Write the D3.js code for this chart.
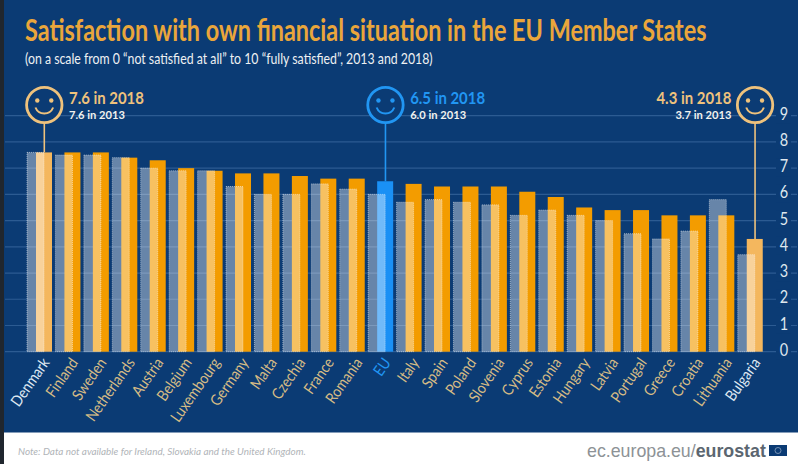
<!DOCTYPE html>
<html>
<head>
<meta charset="utf-8">
<script src="https://cdnjs.cloudflare.com/ajax/libs/d3/7.8.5/d3.min.js"></script>
<style>
  html, body { margin: 0; padding: 0; background: #fff; }
  text { font-family: Lato, "Open Sans", sans-serif; }
</style>
</head>
<body>
<div id="chart"></div>
<script>
var countries = ['Denmark','Finland','Sweden','Netherlands','Austria','Belgium','Luxembourg','Germany','Malta','Czechia','France','Romania','EU','Italy','Spain','Poland','Slovenia','Cyprus','Estonia','Hungary','Latvia','Portugal','Greece','Croatia','Lithuania','Bulgaria'];
var values2018 = [7.6,7.6,7.6,7.4,7.3,7.0,6.9,6.8,6.8,6.7,6.6,6.6,6.5,6.4,6.3,6.3,6.3,6.1,5.9,5.5,5.4,5.4,5.2,5.2,5.2,4.3];
var values2013 = [7.6,7.5,7.5,7.4,7.0,6.9,6.9,6.3,6.0,6.0,6.4,6.2,6.0,5.7,5.8,5.7,5.6,5.2,5.4,5.2,5.0,4.5,4.3,4.6,5.8,3.7];
var yTicks = [0,1,2,3,4,5,6,7,8,9];
var callouts = [
  {name:'Denmark', big:'7.6 in 2018', small:'7.6 in 2013', color:'#efc27c', side:'right'},
  {name:'EU', big:'6.5 in 2018', small:'6.0 in 2013', color:'#2196f3', side:'right'},
  {name:'Bulgaria', big:'4.3 in 2018', small:'3.7 in 2013', color:'#efc27c', side:'left'}
];

var width = 800, height = 464;
var bg = '#0b3b74';

var svg = d3.select('#chart').append('svg')
  .attr('width', width).attr('height', height)
  .style('display', 'block');

// squeeze a text to the wanted width, the original uses a condensed font
function fitText(sel, px, py, wanted) {
  var natural = sel.node().getComputedTextLength();
  sel.attr('transform', 'translate(' + px + ',' + py + ') scale(' + (wanted / natural) + ',1)');
}

svg.append('rect').attr('width', width).attr('height', height).attr('fill', '#fff');
svg.append('rect').attr('x', 4).attr('width', width - 6).attr('height', 432.5).attr('fill', bg);
svg.append('rect').attr('width', 4).attr('height', height).attr('fill', '#20262e');

var y = d3.scaleLinear().domain([0, 9]).range([351.7, 115.7]);
// step of the country groups, the 2018 bar sits at the right of each group
var x = d3.scaleBand().domain(countries).range([25, 25 + 28.43 * 26]).paddingInner(0).paddingOuter(0);

// gridlines
svg.append('g').selectAll('line').data(yTicks).enter().append('line')
  .attr('x1', 5).attr('x2', 797)
  .attr('y1', function(d) { return y(d); })
  .attr('y2', function(d) { return y(d); })
  .attr('stroke', '#2c5b92').attr('stroke-width', 1.2);

// y labels, covering the line behind them
var yAxis = svg.append('g');
yAxis.selectAll('rect').data(yTicks).enter().append('rect')
  .attr('x', 776).attr('width', 15)
  .attr('y', function(d) { return y(d) - 10; }).attr('height', 18)
  .attr('fill', bg);
yAxis.selectAll('text').data(yTicks).enter().append('text')
  .attr('transform', function(d) { return 'translate(784,' + (y(d) - 2) + ') scale(0.85,1)'; })
  .attr('dy', '0.36em').attr('text-anchor', 'middle')
  .attr('font-size', 17).attr('fill', '#dfe7ee')
  .text(function(d) { return d; });

function barColor(name) {
  if (name === 'EU') return '#1a90f5';
  if (name === 'Denmark' || name === 'Bulgaria') return '#f4b75e';
  return '#f39c00';
}

// stems of the callouts go behind the bars
var stems = svg.append('g');

var groups = svg.append('g').selectAll('g').data(countries).enter().append('g');
groups.append('rect')
  .attr('x', function(d) { return x(d) + 11; })
  .attr('width', 16)
  .attr('y', function(d, i) { return y(values2018[i]); })
  .attr('height', function(d, i) { return y(0) - y(values2018[i]); })
  .attr('fill', barColor);
groups.append('rect')
  .attr('x', function(d) { return x(d) + 2; })
  .attr('width', 17)
  .attr('y', function(d, i) { return y(values2013[i]); })
  .attr('height', function(d, i) { return y(0) - y(values2013[i]); })
  .attr('fill', '#fff').attr('fill-opacity', 0.38)
  .attr('stroke', '#fff').attr('stroke-opacity', 0.6)
  .attr('stroke-width', 0.8).attr('stroke-dasharray', '1 1');

// rotated country labels
svg.append('g').selectAll('text').data(countries).enter().append('text')
  .attr('transform', function(d) {
    return 'translate(' + (x(d) + 21.5) + ',360) rotate(-55) scale(0.88,1)';
  })
  .attr('text-anchor', 'end')
  .attr('dy', '0.3em')
  .attr('font-size', 15.5)
  .attr('fill', function(d) {
    if (d === 'EU') return '#2196f3';
    if (d === 'Denmark' || d === 'Bulgaria') return '#dfe8f2';
    return '#d6bb85';
  })
  .text(function(d) { return d; });

// callouts with smiley
var faceR = 17.7, faceY = 105;
callouts.forEach(function(c) {
  var i = countries.indexOf(c.name);
  var cx = x(c.name) + 19.3;
  stems.append('line')
    .attr('x1', cx).attr('x2', cx)
    .attr('y1', faceY + faceR).attr('y2', y(values2018[i]))
    .attr('stroke', c.color).attr('stroke-width', 1.6);
  var g = svg.append('g');
  g.append('circle').attr('cx', cx).attr('cy', faceY).attr('r', faceR)
    .attr('fill', bg).attr('stroke', c.color).attr('stroke-width', 2.8);
  g.append('circle').attr('cx', cx - 7).attr('cy', faceY - 4.5).attr('r', 2.2).attr('fill', c.color);
  g.append('circle').attr('cx', cx + 7).attr('cy', faceY - 4.5).attr('r', 2.2).attr('fill', c.color);
  g.append('path')
    .attr('d', d3.arc()({innerRadius: 8.5, outerRadius: 10.5, startAngle: Math.PI * 0.62, endAngle: Math.PI * 1.38}))
    .attr('transform', 'translate(' + cx + ',' + (faceY - 1) + ')')
    .attr('fill', c.color);
  var tx = c.side === 'right' ? cx + faceR + 7 : cx - faceR - 6;
  var anchor = c.side === 'right' ? 'start' : 'end';
  var big = g.append('text').attr('text-anchor', anchor)
    .attr('font-size', 16.5).attr('font-weight', 'bold').attr('fill', c.color).text(c.big);
  fitText(big, tx, 104, 75);
  var small = g.append('text').attr('text-anchor', anchor)
    .attr('font-size', 12).attr('font-weight', 'bold').attr('fill', '#f2f2ee').text(c.small);
  fitText(small, tx, 119, 56);
});

// title and subtitle
var title = svg.append('text')
  .attr('font-size', 30).attr('font-weight', 'bold').attr('fill', '#eaa63b')
  .text('Satisfaction with own financial situation in the EU Member States');
fitText(title, 25, 41, 682);
var subtitle = svg.append('text')
  .attr('font-size', 14.5).attr('fill', '#eef0f2')
  .text('(on a scale from 0 \u201cnot satisfied at all\u201d to 10 \u201cfully satisfied\u201d, 2013 and 2018)');
fitText(subtitle, 25, 64, 408);

// footer
var note = svg.append('text')
  .attr('font-size', 10).attr('font-style', 'italic').attr('fill', '#b0b4b8')
  .text('Note: Data not available for Ireland, Slovakia and the United Kingdom.');
fitText(note, 18, 455, 288);
var brand = svg.append('text')
  .attr('font-size', 18).style('font-family', '"Liberation Sans", sans-serif').attr('fill', '#8d9296');
brand.append('tspan').text('ec.europa.eu/');
brand.append('tspan').attr('font-weight', 'bold').attr('fill', '#5b6670').text('eurostat');
fitText(brand, 587, 457, 179);
svg.append('rect').attr('x', 769).attr('y', 445).attr('width', 18).attr('height', 11).attr('fill', '#0b3b74');
svg.append('circle').attr('cx', 778).attr('cy', 450.5).attr('r', 3).attr('fill', 'none').attr('stroke', '#8fa5c2').attr('stroke-width', 0.8);
</script>
</body>
</html>
